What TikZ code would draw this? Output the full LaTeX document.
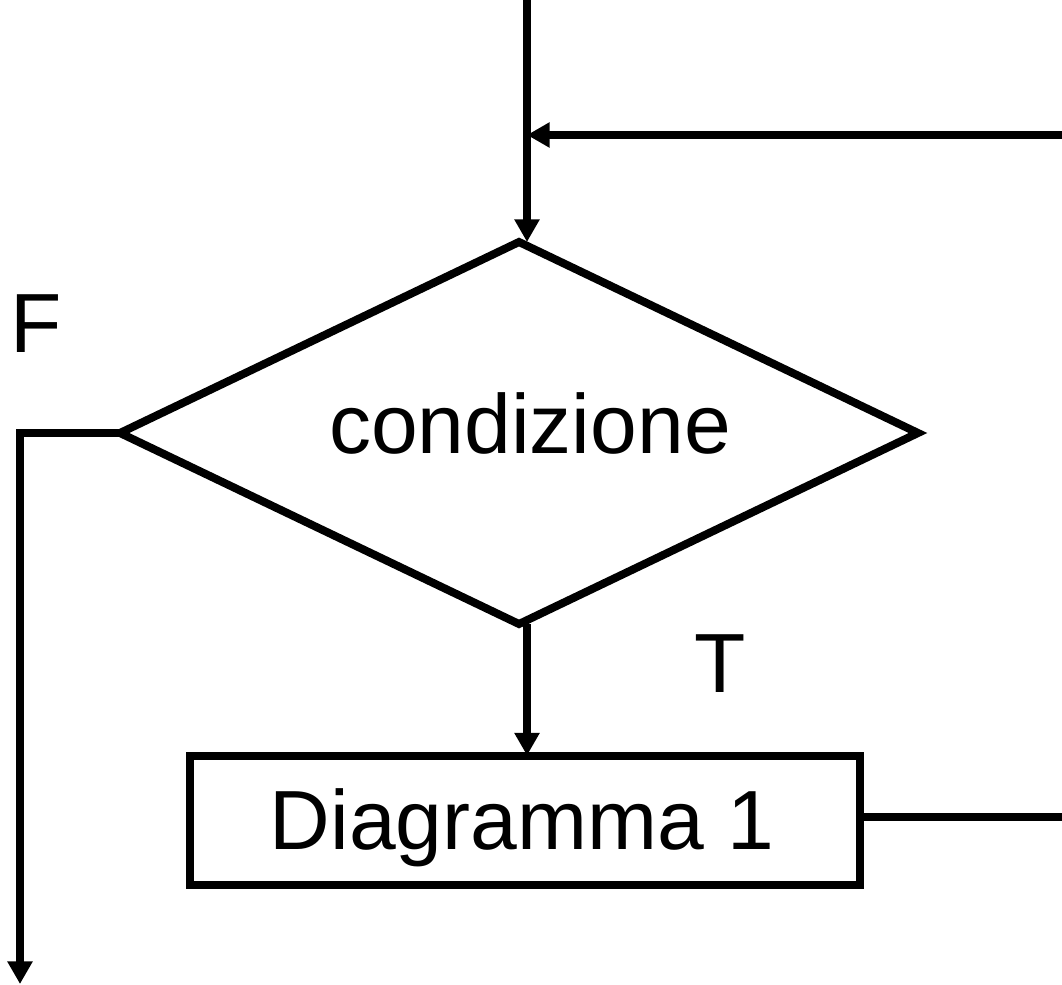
\documentclass[tikz,border=0pt]{standalone}
\usepackage{fontspec}
\setmainfont{Liberation Sans}
\usetikzlibrary{shapes.geometric,arrows.meta}
\begin{document}
\begin{tikzpicture}[x=0.75pt,y=-0.75pt,
  line width=6pt,
  conn/.style={-{Triangle[length=17pt,width=18pt]}},
  plain/.style={},
  txt/.style={inner sep=0pt,outer sep=0pt,anchor=base,font=\fontsize{63}{70}\selectfont},
  dshape/.style={draw,diamond,inner sep=0pt,outer sep=0pt,minimum width=598.5pt,minimum height=286.5pt},
  boxshape/.style={draw,rectangle,inner sep=0pt,outer sep=0pt,minimum width=502.5pt,minimum height=96.75pt}]
\useasboundingbox (0,0) rectangle (1062,984);
\node[dshape] (d) at (519,433) {};
\node[txt] (dtext) at (530,453) {condizione};
\node[boxshape] (box) at (525,820) {};
\node[txt] (btext) at (522,849) {Diagramma 1};
\node[txt] (F) at (36,352) {F};
\node[txt] (T) at (720,692) {T};
\coordinate (top) at (527,0);
\coordinate (rin) at (1062,135);
\coordinate (rout) at (1062,817);
\coordinate (fend) at (20,984);
\coordinate (fcorner) at (d.west -| fend);
\draw[conn] (top) -- (top |- d.north);
\draw[conn] (rin) -- (rin -| top);
\draw[conn] (d.west) -- (fcorner) -- (fend);
\draw[conn] (d.south -| top) -- (box.north -| top);
\draw[plain] (box.east |- rout) -- (rout);
\end{tikzpicture}
\end{document}
